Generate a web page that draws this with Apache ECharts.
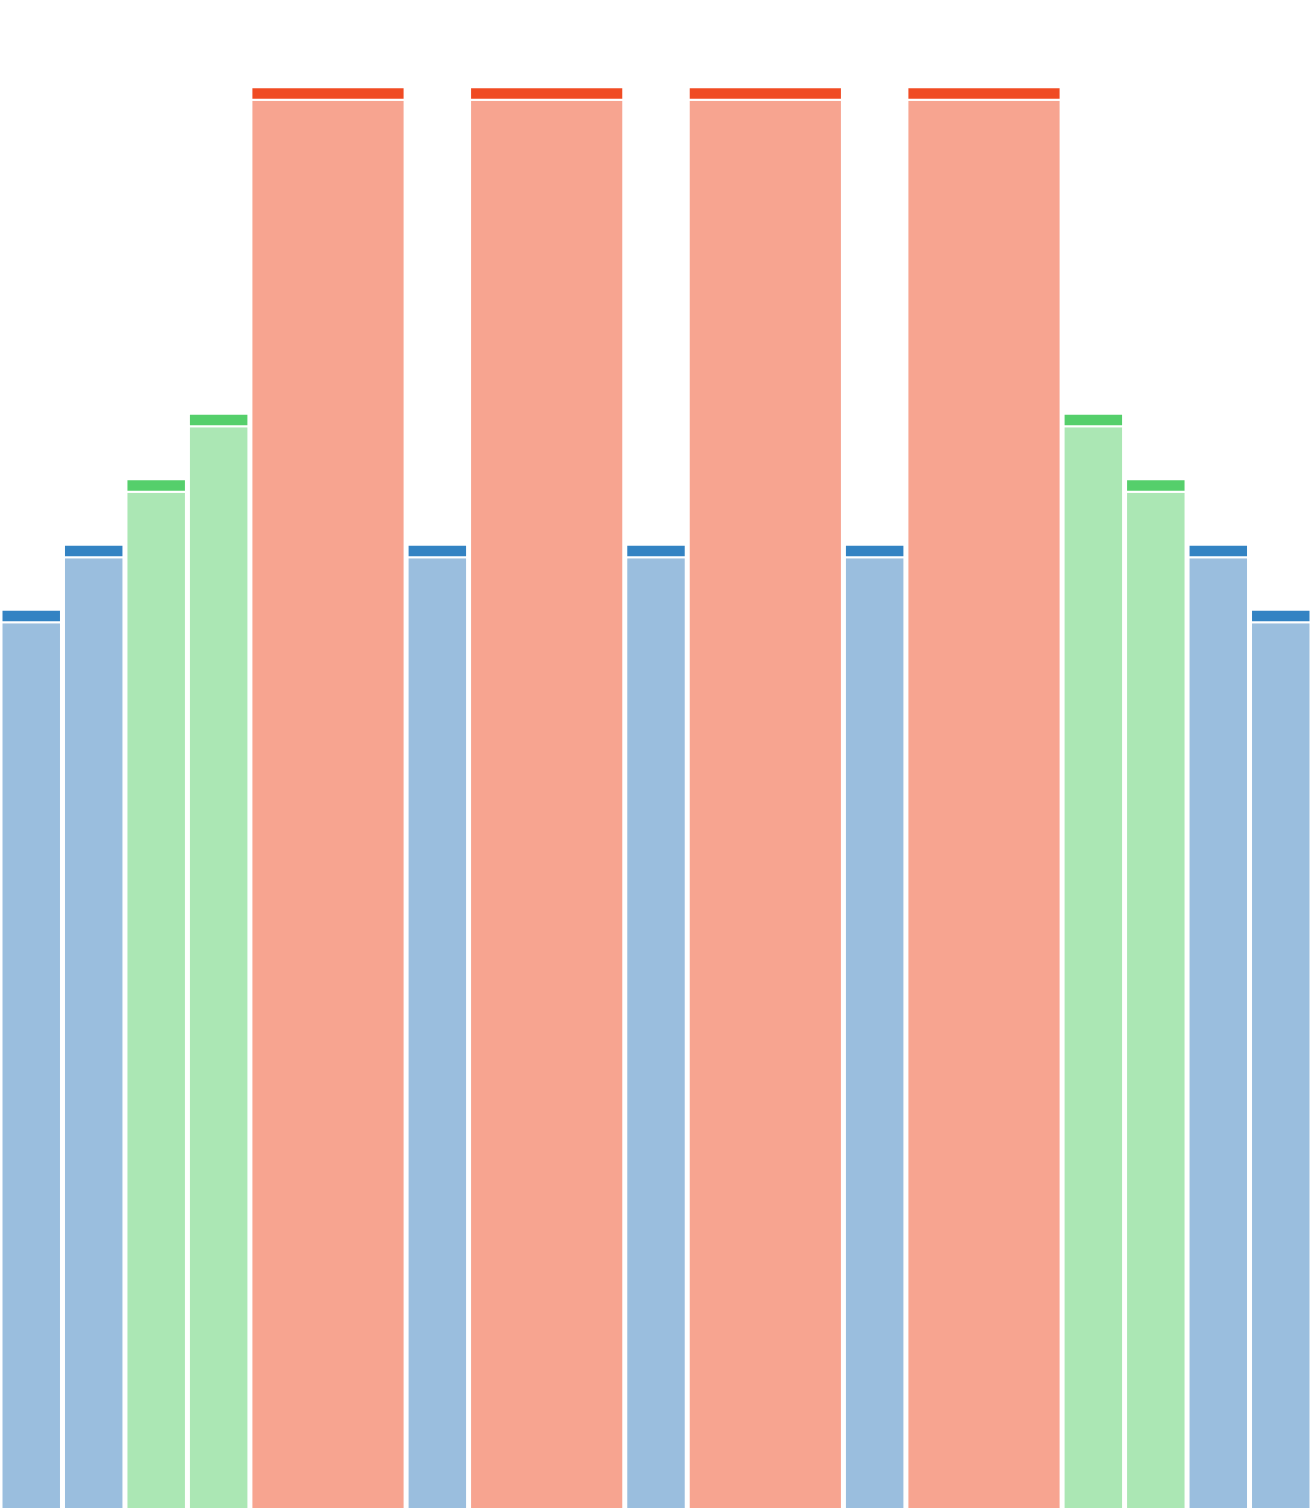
<!DOCTYPE html>
<html>
<head>
<meta charset="utf-8">
<script src="https://cdn.jsdelivr.net/npm/echarts@6/dist/echarts.min.js"></script>
<style>
  html, body { margin: 0; padding: 0; background: #fff; }
  #main { width: 1312px; height: 1508px; }
</style>
</head>
<body>
<div id="main"></div>
<script>
// 数据
const widths = [1, 1, 1, 1, 2.5, 1, 2.5, 1, 2.5, 1, 2.5, 1, 1, 1, 1];
const values = [13.7, 14.69, 15.69, 16.69, 21.67, 14.69, 21.67, 14.69, 21.67, 14.69, 21.67, 16.69, 15.69, 14.69, 13.7];
const groups = ["blue", "blue", "green", "green", "red", "blue", "red", "blue", "red", "blue", "red", "green", "green", "blue", "blue"];

// 颜色：顶部深色 + 主体浅色
const colors = {
  blue: { cap: "#3383c3", body: "#9abede" },
  green: { cap: "#55cf6b", body: "#abe7b4" },
  red: { cap: "#f04b23", body: "#f7a490" }
};

(function () {
  let myChart = echarts.init(document.getElementById("main"));

  // 累计宽度 -> 每根柱子的起止
  let start = 0;
  let data = widths.map(function (w, i) {
    let item = [start, start + w, values[i], i];
    start += w;
    return item;
  });

  let option = {
    animation: false,
    grid: { top: 0, left: 0, right: 0, bottom: 0 },
    xAxis: { type: "value", min: 0, max: start, show: false },
    yAxis: { type: "value", min: 0, max: 23, show: false },
    series: [
      {
        type: "custom",
        data: data,
        renderItem: function (params, api) {
          let p0 = api.coord([api.value(0), 0]);
          let p1 = api.coord([api.value(1), api.value(2)]);
          let c = colors[groups[api.value(3)]];
          let x = p0[0] + 1.5;
          let w = p1[0] - p0[0] - 3;
          let capH = 12.5;
          return {
            type: "group",
            children: [
              {
                type: "rect",
                shape: { x: x, y: p1[1] + capH, width: w, height: p0[1] - p1[1] - capH + 2 },
                style: { fill: c.body, stroke: "#fff", lineWidth: 2 }
              },
              {
                type: "rect",
                shape: { x: x, y: p1[1], width: w, height: capH },
                style: { fill: c.cap, stroke: "#fff", lineWidth: 2 }
              }
            ]
          };
        }
      }
    ]
  };

  myChart.setOption(option);
  window.addEventListener("resize", function () {
    myChart.resize();
  });
})();
</script>
</body>
</html>
